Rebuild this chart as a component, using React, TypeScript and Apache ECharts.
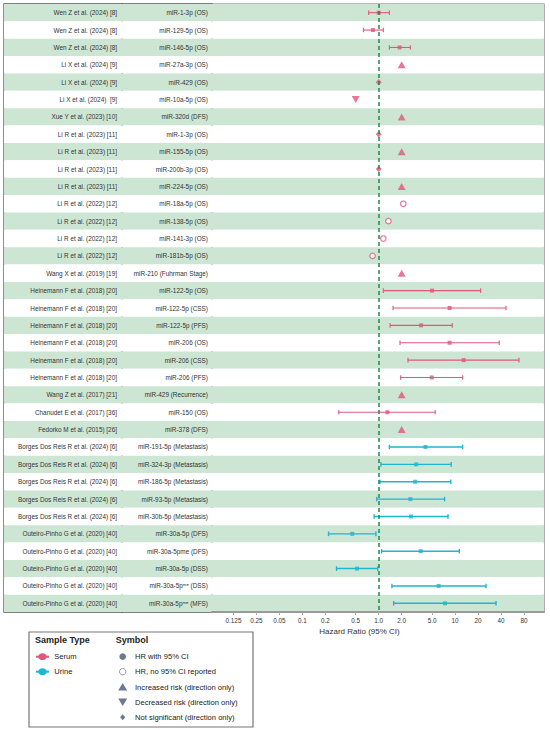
import React, { useEffect, useRef } from 'react';
import * as echarts from 'echarts';

const studies = [
  'Wen Z et al. (2024) [8]', 'Wen Z et al. (2024) [8]', 'Wen Z et al. (2024) [8]',
  'Li X et al. (2024) [9]', 'Li X et al. (2024) [9]', 'Li X et al. (2024)  [9]',
  'Xue Y et al. (2023) [10]',
  'Li R et al. (2023) [11]', 'Li R et al. (2023) [11]', 'Li R et al. (2023) [11]', 'Li R et al. (2023) [11]',
  'Li R et al. (2022) [12]', 'Li R et al. (2022) [12]', 'Li R et al. (2022) [12]', 'Li R et al. (2022) [12]',
  'Wang X et al. (2019) [19]',
  'Heinemann F et al. (2018) [20]', 'Heinemann F et al. (2018) [20]', 'Heinemann F et al. (2018) [20]',
  'Heinemann F et al. (2018) [20]', 'Heinemann F et al. (2018) [20]', 'Heinemann F et al. (2018) [20]',
  'Wang Z et al. (2017) [21]', 'Chanudet E et al. (2017) [36]', 'Fedorko M et al. (2015) [26]',
  'Borges Dos Reis R et al. (2024) [6]', 'Borges Dos Reis R et al. (2024) [6]', 'Borges Dos Reis R et al. (2024) [6]',
  'Borges Dos Reis R et al. (2024) [6]', 'Borges Dos Reis R et al. (2024) [6]',
  'Outeiro-Pinho G et al. (2020) [40]', 'Outeiro-Pinho G et al. (2020) [40]', 'Outeiro-Pinho G et al. (2020) [40]',
  'Outeiro-Pinho G et al. (2020) [40]', 'Outeiro-Pinho G et al. (2020) [40]',
];

const mirnas = [
  'miR-1-3p (OS)', 'miR-129-5p (OS)', 'miR-146-5p (OS)', 'miR-27a-3p (OS)', 'miR-429 (OS)', 'miR-10a-5p (OS)',
  'miR-320d (DFS)', 'miR-1-3p (OS)', 'miR-155-5p (OS)', 'miR-200b-3p (OS)', 'miR-224-5p (OS)',
  'miR-18a-5p (OS)', 'miR-138-5p (OS)', 'miR-141-3p (OS)', 'miR-181b-5p (OS)', 'miR-210 (Fuhrman Stage)',
  'miR-122-5p (OS)', 'miR-122-5p (CSS)', 'miR-122-5p (PFS)', 'miR-206 (OS)', 'miR-206 (CSS)', 'miR-206 (PFS)',
  'miR-429 (Recurrence)', 'miR-150 (OS)', 'miR-378 (DFS)',
  'miR-191-5p (Metastasis)', 'miR-324-3p (Metastasis)', 'miR-186-5p (Metastasis)', 'miR-93-5p (Metastasis)',
  'miR-30b-5p (Metastasis)', 'miR-30a-5p (DFS)', 'miR-30a-5pme (DFS)', 'miR-30a-5p (DSS)',
  'miR-30a-5p\u1D50\u1D49 (DSS)', 'miR-30a-5p\u1D50\u1D49 (MFS)',
];

const sampleType = [
  'Serum', 'Serum', 'Serum', 'Serum', 'Serum', 'Serum', 'Serum', 'Serum', 'Serum', 'Serum', 'Serum',
  'Serum', 'Serum', 'Serum', 'Serum', 'Serum', 'Serum', 'Serum', 'Serum', 'Serum', 'Serum', 'Serum',
  'Serum', 'Serum', 'Serum',
  'Urine', 'Urine', 'Urine', 'Urine', 'Urine', 'Urine', 'Urine', 'Urine', 'Urine', 'Urine',
];

// ci = HR with 95% CI, noci = HR without CI, up/down = direction only, ns = not significant
const symbolKind = [
  'ci', 'ci', 'ci', 'up', 'ns', 'down', 'up', 'ns', 'up', 'ns', 'up',
  'noci', 'noci', 'noci', 'noci', 'up',
  'ci', 'ci', 'ci', 'ci', 'ci', 'ci', 'up', 'ci', 'up',
  'ci', 'ci', 'ci', 'ci', 'ci', 'ci', 'ci', 'ci', 'ci', 'ci',
];

const hr = [
  1.0, 0.84, 1.88, 2.0, 1.0, 0.5, 2.0, 1.0, 2.0, 1.0, 2.0,
  2.1, 1.34, 1.15, 0.83, 2.0,
  5.0, 8.5, 3.6, 8.5, 13, 4.95, 2.0, 1.3, 2.0,
  4.1, 3.1, 3.0, 2.6, 2.65, 0.45, 3.55, 0.52, 6.1, 7.4,
];

const lower = [
  0.74, 0.63, 1.38, null, null, null, null, null, null, null, null,
  null, null, null, null, null,
  1.15, 1.54, 1.41, 1.9, 2.42, 1.94, null, 0.3, null,
  1.38, 1.07, 1.04, 0.94, 0.87, 0.22, 1.09, 0.28, 1.49, 1.57,
];

const upper = [
  1.38, 1.15, 2.6, null, null, null, null, null, null, null, null,
  null, null, null, null, null,
  21.7, 46.6, 9.2, 38, 69, 12.6, null, 5.5, null,
  12.6, 8.9, 8.8, 7.3, 8.1, 0.92, 11.4, 0.97, 25.5, 34.5,
];

const tickPositions = [0.0125, 0.025, 0.05, 0.1, 0.2, 0.5, 1, 2, 5, 10, 20, 40, 80];
const tickLabels = ['0.125', '0.25', '0.05', '0.1', '0.2', '0.5', '1.0', '2.0', '5.0', '10', '20', '40', '80'];

const PINK = '#e0587b';
const CYAN = '#1fb6d1';
const GREEN_ROW = '#cde6d4';
const REF_GREEN = '#1e8a4c';
const LEG_GRAY = '#6b7896';
const FONT = 'Liberation Sans, Arial, sans-serif';

export default function App() {
  const ref = useRef<HTMLDivElement>(null);

  useEffect(() => {
    const chart = echarts.init(ref.current as HTMLDivElement, null, { renderer: 'svg' });
    const rows = studies.map((_, i) => String(i));
    const lg = (v: number) => Math.log10(v);
    const X_MIN = -2.1848;
    const X_MAX = 2.1664;

    const baseY = (gridIndex: number, extra: any) => ({
      type: 'category',
      gridIndex,
      data: rows,
      inverse: true,
      axisLine: { show: false },
      axisTick: { show: false },
      splitLine: { show: false },
      splitArea: { show: true, interval: 0, areaStyle: { color: [GREEN_ROW, '#ffffff'] } },
      ...extra,
    });

    const hiddenX = (gridIndex: number) => ({
      type: 'value', gridIndex, min: 0, max: 1, show: false, splitLine: { show: false },
    });

    const errData: any[] = [];
    const pointData: any[] = [];
    hr.forEach((v, i) => {
      const color = sampleType[i] === 'Serum' ? PINK : CYAN;
      const kind = symbolKind[i];
      if (kind === 'ci' && lower[i] != null && upper[i] != null) {
        errData.push([lg(lower[i] as number), lg(upper[i] as number), i, sampleType[i] === 'Serum' ? 0 : 1]);
      }
      let item: any = { value: [lg(v), i] };
      if (kind === 'ci') {
        item = { ...item, symbol: 'rect', symbolSize: 4, itemStyle: { color } };
      } else if (kind === 'noci') {
        item = { ...item, symbol: 'circle', symbolSize: 5.5, itemStyle: { color: '#ffffff', borderColor: color, borderWidth: 1.2 } };
      } else if (kind === 'up') {
        item = { ...item, symbol: 'triangle', symbolSize: [8, 7], itemStyle: { color } };
      } else if (kind === 'down') {
        item = { ...item, symbol: 'triangle', symbolRotate: 180, symbolSize: [8, 7], itemStyle: { color } };
      } else {
        item = { ...item, symbol: 'diamond', symbolSize: [6, 6.5], itemStyle: { color } };
      }
      pointData.push(item);
    });

    const legendRows = [656.7, 671.7, 687, 702, 717.3];
    const txt = (x: number, y: number, text: string, extra: any = {}) => ({
      type: 'text',
      x, y,
      style: {
        text, fontSize: 7.6, fontFamily: FONT, fill: '#222',
        align: 'left', verticalAlign: 'middle', textAlign: 'left', textVerticalAlign: 'middle',
        ...extra,
      },
    });
    const sx = 122.7;

    const option: any = {
      animation: false,
      backgroundColor: '#ffffff',
      textStyle: { fontFamily: FONT },
      grid: [
        { left: 4, top: 4, width: 118, height: 608, show: true, borderColor: '#555', borderWidth: 1.3, backgroundColor: 'transparent' },
        { left: 122, top: 4, width: 90, height: 608, show: true, borderColor: '#555', borderWidth: 1.3, backgroundColor: 'transparent' },
        { left: 212, top: 4, width: 332, height: 608, show: true, borderColor: '#777', borderWidth: 1.2, backgroundColor: 'transparent' },
      ],
      xAxis: [
        hiddenX(0),
        hiddenX(1),
        {
          type: 'value',
          gridIndex: 2,
          min: X_MIN,
          max: X_MAX,
          splitLine: { show: false },
          axisLine: { show: true, lineStyle: { color: '#999', width: 2 } },
          axisTick: {
            show: true, length: 3, lineStyle: { color: '#aaa' },
            customValues: tickPositions.map(lg),
          },
          axisLabel: {
            show: true,
            customValues: tickPositions.map(lg),
            fontSize: 6.3,
            color: '#333',
            margin: 5,
            fontFamily: FONT,
            formatter: (val: number) => {
              let best = 0;
              let bd = Infinity;
              tickPositions.forEach((t, k) => {
                const d = Math.abs(lg(t) - val);
                if (d < bd) { bd = d; best = k; }
              });
              return tickLabels[best];
            },
          },
        },
      ],
      yAxis: [
        baseY(0, {
          position: 'right',
          axisLabel: {
            show: true, inside: true, interval: 0, margin: 5, fontSize: 6.4, color: '#333', fontFamily: FONT,
            formatter: (v: string) => studies[Number(v)],
          },
        }),
        baseY(1, {
          position: 'right',
          axisLabel: {
            show: true, inside: true, interval: 0, margin: 4, fontSize: 6.4, color: '#333', fontFamily: FONT,
            formatter: (v: string) => mirnas[Number(v)],
          },
        }),
        baseY(2, { axisLabel: { show: false } }),
      ],
      series: [
        {
          type: 'scatter',
          xAxisIndex: 2,
          yAxisIndex: 2,
          data: [],
          z: 1,
          markLine: {
            silent: true,
            symbol: ['none', 'none'],
            label: { show: false },
            lineStyle: { color: REF_GREEN, type: [4, 3], width: 1.5 },
            data: [{ xAxis: 0 }],
          },
        },
        {
          type: 'custom',
          xAxisIndex: 2,
          yAxisIndex: 2,
          z: 2,
          dimensions: ['lo', 'hi', 'row', 'type'],
          encode: { x: [0, 1], y: 2 },
          data: errData,
          renderItem: (params: any, api: any) => {
            const lo = api.coord([api.value(0), api.value(2)]);
            const hi = api.coord([api.value(1), api.value(2)]);
            const c = api.value(3) === 0 ? PINK : CYAN;
            const lw = api.value(3) === 0 ? 1.1 : 1.4;
            const h = 2.3;
            return {
              type: 'group',
              children: [
                { type: 'line', shape: { x1: lo[0], y1: lo[1], x2: hi[0], y2: hi[1] }, style: { stroke: c, lineWidth: lw } },
                { type: 'line', shape: { x1: lo[0], y1: lo[1] - h, x2: lo[0], y2: lo[1] + h }, style: { stroke: c, lineWidth: lw } },
                { type: 'line', shape: { x1: hi[0], y1: hi[1] - h, x2: hi[0], y2: hi[1] + h }, style: { stroke: c, lineWidth: lw } },
              ],
            };
          },
        },
        {
          type: 'scatter',
          xAxisIndex: 2,
          yAxisIndex: 2,
          z: 3,
          data: pointData,
        },
      ],
      graphic: [
        txt(359.5, 631.7, 'Hazard Ratio (95% CI)', { fontSize: 8, align: 'center', textAlign: 'center', fill: '#333' }),
        { type: 'rect', shape: { x: 29, y: 632, width: 224, height: 95 }, style: { fill: 'none', stroke: '#777', lineWidth: 1.2 } },
        txt(35, 639.5, 'Sample Type', { fontSize: 9, fontWeight: 'bold' }),
        txt(115.7, 639.5, 'Symbol', { fontSize: 9, fontWeight: 'bold' }),
        { type: 'line', shape: { x1: 36, y1: legendRows[0], x2: 49, y2: legendRows[0] }, style: { stroke: PINK, lineWidth: 2 } },
        { type: 'ellipse', shape: { cx: 42.5, cy: legendRows[0], rx: 4.2, ry: 3.4 }, style: { fill: PINK } },
        txt(54.3, legendRows[0], 'Serum'),
        { type: 'line', shape: { x1: 36, y1: legendRows[1], x2: 49, y2: legendRows[1] }, style: { stroke: CYAN, lineWidth: 2 } },
        { type: 'ellipse', shape: { cx: 42.5, cy: legendRows[1], rx: 4.2, ry: 3.4 }, style: { fill: CYAN } },
        txt(54.3, legendRows[1], 'Urine'),
        { type: 'circle', shape: { cx: sx, cy: legendRows[0], r: 3.3 }, style: { fill: LEG_GRAY } },
        txt(135, legendRows[0], 'HR with 95% CI'),
        { type: 'circle', shape: { cx: sx, cy: legendRows[1], r: 3.2 }, style: { fill: '#ffffff', stroke: '#8a8a8a', lineWidth: 0.9 } },
        txt(135, legendRows[1], 'HR, no 95% CI reported'),
        { type: 'polygon', shape: { points: [[sx, legendRows[2] - 4], [sx - 4.5, legendRows[2] + 3.5], [sx + 4.5, legendRows[2] + 3.5]] }, style: { fill: LEG_GRAY } },
        txt(135, legendRows[2], 'Increased risk (direction only)'),
        { type: 'polygon', shape: { points: [[sx - 4.5, legendRows[3] - 3.5], [sx + 4.5, legendRows[3] - 3.5], [sx, legendRows[3] + 4]] }, style: { fill: LEG_GRAY } },
        txt(135, legendRows[3], 'Decreased risk (direction only)'),
        { type: 'polygon', shape: { points: [[sx, legendRows[4] - 3], [sx + 2.6, legendRows[4]], [sx, legendRows[4] + 3], [sx - 2.6, legendRows[4]]] }, style: { fill: LEG_GRAY } },
        txt(135, legendRows[4], 'Not significant (direction only)'),
      ],
    };

    chart.setOption(option);
    return () => chart.dispose();
  }, []);

  return (
    <div
      ref={ref}
      style={{ position: 'fixed', left: 0, top: 0, width: 550, height: 730, background: '#ffffff' }}
    />
  );
}
